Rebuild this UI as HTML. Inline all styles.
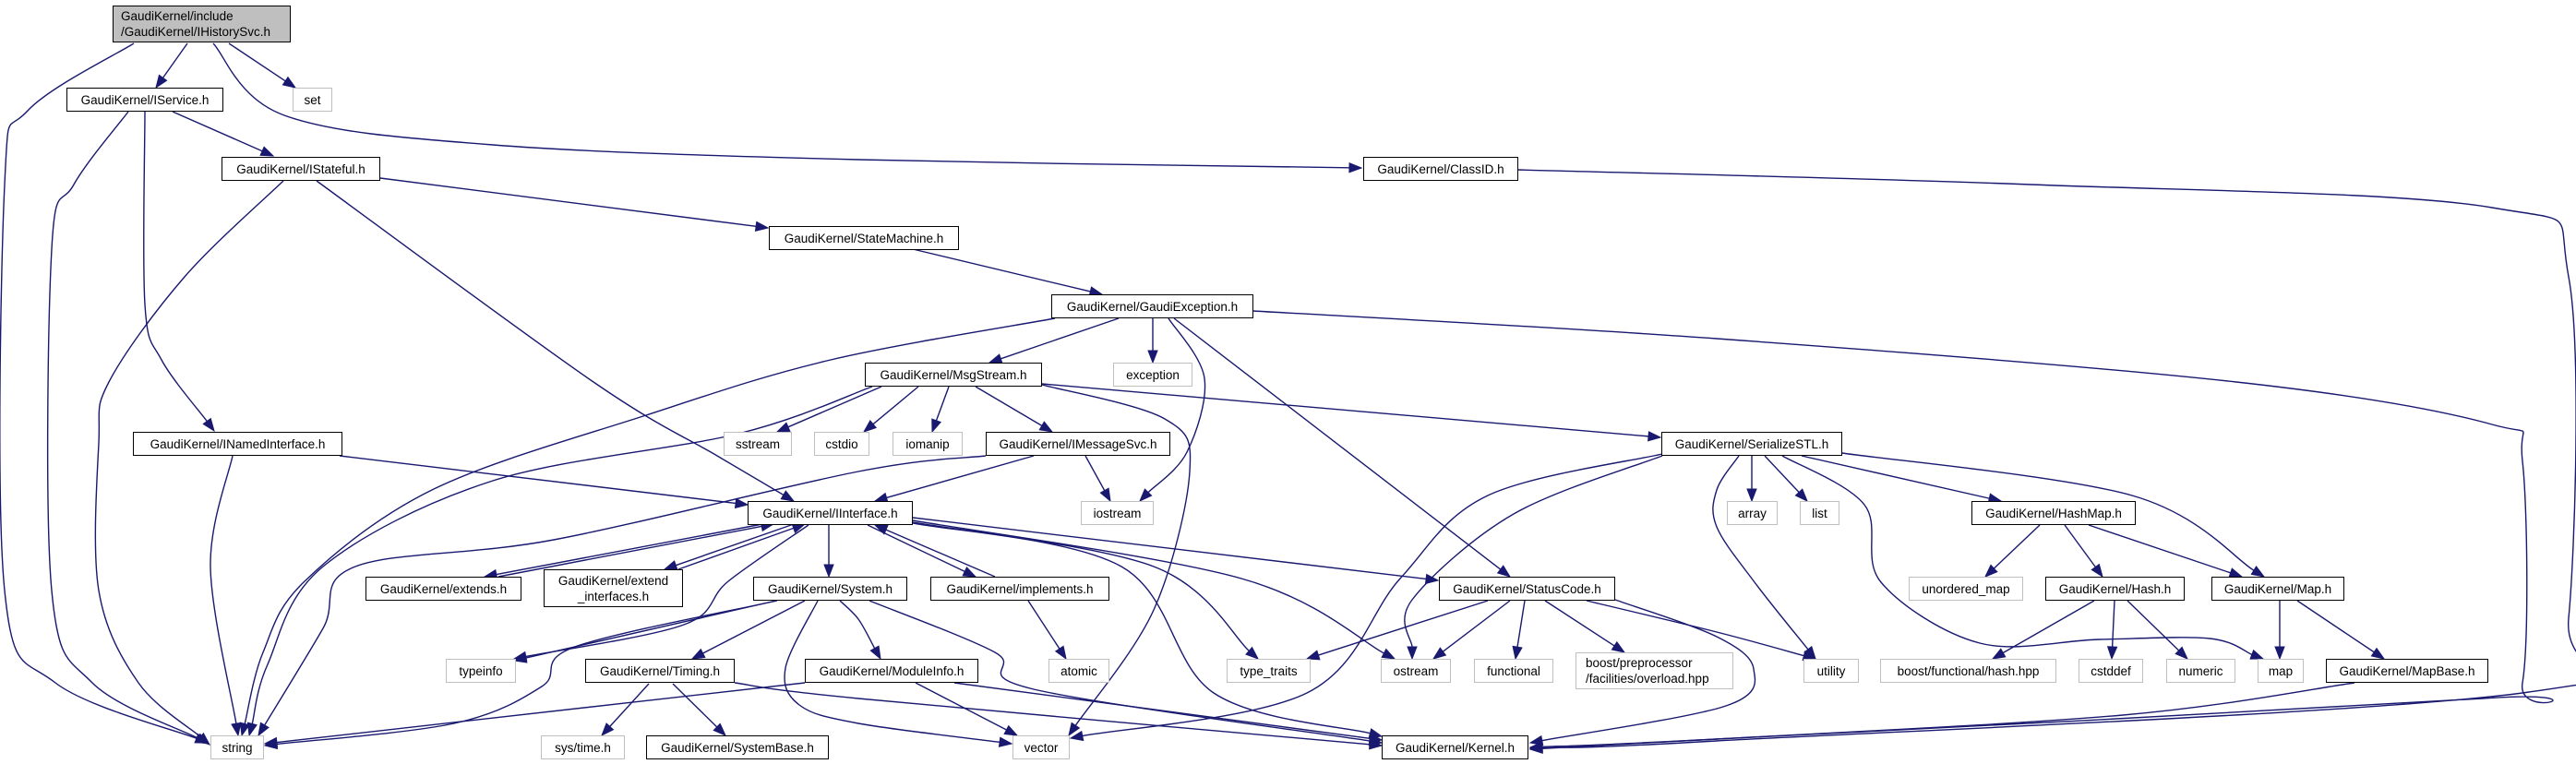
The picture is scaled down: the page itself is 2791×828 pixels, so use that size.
<!DOCTYPE html>
<html><head><meta charset="utf-8">
<style>
html,body{margin:0;padding:0;background:#fff;}
#c{position:relative;width:2791px;height:828px;overflow:hidden;}
svg{position:absolute;left:0;top:0;}
.n{position:absolute;box-sizing:border-box;border:1.5px solid #000;background:#fff;font-family:"Liberation Sans",sans-serif;font-size:13.5px;color:#000;display:flex;align-items:center;justify-content:center;text-align:center;line-height:17px;white-space:nowrap;}
.g{border-color:#bfbfbf;}
.h{background:#bfbfbf;}
</style></head><body><div id="c">
<svg id="s" width="2791" height="828"></svg>
<div class="n h" style="left:122px;top:6px;width:193px;height:40px;text-align:left;justify-content:flex-start;padding-left:8px">GaudiKernel/include<br>/GaudiKernel/IHistorySvc.h</div>
<div class="n" style="left:72px;top:95px;width:170px;height:26px">GaudiKernel/IService.h</div>
<div class="n g" style="left:317px;top:95px;width:43px;height:26px">set</div>
<div class="n" style="left:240px;top:170px;width:172px;height:26px">GaudiKernel/IStateful.h</div>
<div class="n" style="left:1477px;top:170px;width:168px;height:26px">GaudiKernel/ClassID.h</div>
<div class="n" style="left:833px;top:245px;width:206px;height:26px">GaudiKernel/StateMachine.h</div>
<div class="n" style="left:1139px;top:319px;width:219px;height:26px">GaudiKernel/GaudiException.h</div>
<div class="n" style="left:937px;top:393px;width:192px;height:26px">GaudiKernel/MsgStream.h</div>
<div class="n g" style="left:1206px;top:393px;width:86px;height:26px">exception</div>
<div class="n" style="left:144px;top:468px;width:227px;height:26px">GaudiKernel/INamedInterface.h</div>
<div class="n g" style="left:784px;top:468px;width:74px;height:26px">sstream</div>
<div class="n g" style="left:882px;top:468px;width:60px;height:26px">cstdio</div>
<div class="n g" style="left:967px;top:468px;width:76px;height:26px">iomanip</div>
<div class="n" style="left:1068px;top:468px;width:200px;height:26px">GaudiKernel/IMessageSvc.h</div>
<div class="n" style="left:1800px;top:468px;width:196px;height:26px">GaudiKernel/SerializeSTL.h</div>
<div class="n" style="left:810px;top:543px;width:179px;height:26px">GaudiKernel/IInterface.h</div>
<div class="n g" style="left:1171px;top:543px;width:79px;height:26px">iostream</div>
<div class="n g" style="left:1871px;top:543px;width:55px;height:26px">array</div>
<div class="n g" style="left:1950px;top:543px;width:43px;height:26px">list</div>
<div class="n" style="left:2136px;top:543px;width:178px;height:26px">GaudiKernel/HashMap.h</div>
<div class="n" style="left:396px;top:625px;width:169px;height:26px">GaudiKernel/extends.h</div>
<div class="n" style="left:589px;top:617px;width:151px;height:41px">GaudiKernel/extend<br>_interfaces.h</div>
<div class="n" style="left:816px;top:625px;width:167px;height:26px">GaudiKernel/System.h</div>
<div class="n" style="left:1008px;top:625px;width:194px;height:26px">GaudiKernel/implements.h</div>
<div class="n" style="left:1559px;top:625px;width:191px;height:26px">GaudiKernel/StatusCode.h</div>
<div class="n g" style="left:2068px;top:625px;width:124px;height:26px">unordered_map</div>
<div class="n" style="left:2216px;top:625px;width:151px;height:26px">GaudiKernel/Hash.h</div>
<div class="n" style="left:2396px;top:625px;width:144px;height:26px">GaudiKernel/Map.h</div>
<div class="n g" style="left:483px;top:714px;width:76px;height:26px">typeinfo</div>
<div class="n" style="left:634px;top:714px;width:162px;height:26px">GaudiKernel/Timing.h</div>
<div class="n" style="left:872px;top:714px;width:188px;height:26px">GaudiKernel/ModuleInfo.h</div>
<div class="n g" style="left:1136px;top:714px;width:66px;height:26px">atomic</div>
<div class="n g" style="left:1329px;top:714px;width:91px;height:26px">type_traits</div>
<div class="n g" style="left:1496px;top:714px;width:76px;height:26px">ostream</div>
<div class="n g" style="left:1597px;top:714px;width:86px;height:26px">functional</div>
<div class="n g" style="left:1707px;top:707px;width:171px;height:40px;text-align:left;justify-content:flex-start;padding-left:10px">boost/preprocessor<br>/facilities/overload.hpp</div>
<div class="n g" style="left:1954px;top:714px;width:60px;height:26px">utility</div>
<div class="n g" style="left:2037px;top:714px;width:191px;height:26px">boost/functional/hash.hpp</div>
<div class="n g" style="left:2252px;top:714px;width:70px;height:26px">cstddef</div>
<div class="n g" style="left:2347px;top:714px;width:75px;height:26px">numeric</div>
<div class="n g" style="left:2446px;top:714px;width:50px;height:26px">map</div>
<div class="n" style="left:2520px;top:714px;width:176px;height:26px">GaudiKernel/MapBase.h</div>
<div class="n g" style="left:228px;top:797px;width:58px;height:26px">string</div>
<div class="n g" style="left:586px;top:797px;width:91px;height:26px">sys/time.h</div>
<div class="n" style="left:700px;top:797px;width:198px;height:26px">GaudiKernel/SystemBase.h</div>
<div class="n g" style="left:1097px;top:797px;width:62px;height:26px">vector</div>
<div class="n" style="left:1497px;top:797px;width:159px;height:26px">GaudiKernel/Kernel.h</div>
</div>
<script>
var E=[
[[203,47],[169,95]],
[[248,47],[320,95]],
[[145,47],[30,120],[5,200],[5,640],[60,740],[225,805]],
[[231,47],[308,125],[534,157],[930,173],[1475,182]],
[[187,121],[296,169]],
[[139,121],[80,200],[56,270],[56,640],[100,740],[226,806]],
[[157,121],[157,330],[175,390],[232,467]],
[[307,196],[200,300],[118,414],[107,480],[107,640],[150,740],[227,807]],
[[343,196],[643,414],[777,494],[860,543]],
[[412,193],[832,247]],
[[989,270],[1194,319]],
[[1212,345],[1072,393]],
[[1249,345],[1249,393]],
[[1266,345],[1305,410],[1286,490],[1235,543]],
[[1272,345],[1636,625]],
[[1358,337],[1860,367],[2423,414],[2700,460],[2733,500],[2733,740],[2690,757],[1860,801],[1658,810]],
[[1645,184],[2200,200],[2700,225],[2783,300],[2783,670],[2740,750],[1860,803],[1658,811]],
[[2551,740],[2300,775],[1860,801],[1658,812]],
[[1143,345],[900,390],[700,450],[470,530],[330,630],[285,707],[262,797]],
[[945,419],[800,470],[534,521],[350,614],[290,720],[270,797]],
[[1068,494],[930,511],[600,585],[385,614],[350,681],[280,797]],
[[955,419],[842,468]],
[[995,419],[936,468]],
[[1028,419],[1010,468]],
[[1057,419],[1140,468]],
[[1129,417],[1262,454],[1289,511],[1250,661],[1158,797]],
[[1129,416],[1799,474]],
[[1120,494],[948,543]],
[[1176,494],[1203,543]],
[[252,494],[228,614],[258,797]],
[[368,494],[810,547]],
[[826,568],[525,625]],
[[540,625],[838,568]],
[[860,568],[720,617]],
[[735,617],[872,568]],
[[898,568],[898,625]],
[[876,569],[789,630],[741,677],[557,714]],
[[841,651],[557,716]],
[[842,651],[623,701],[587,744],[492,784],[287,808]],
[[872,651],[750,714]],
[[910,651],[930,671],[954,714]],
[[886,651],[851,724],[866,764],[930,784],[1096,806]],
[[942,651],[1078,707],[1120,747],[1497,805]],
[[703,741],[652,797]],
[[729,741],[786,797]],
[[796,740],[930,757],[1497,808]],
[[872,740],[287,806]],
[[992,740],[1102,797]],
[[1034,740],[1497,802]],
[[1078,625],[948,569]],
[[940,569],[1057,625]],
[[1114,651],[1155,714]],
[[989,566],[1250,614],[1363,714]],
[[989,564],[1345,627],[1511,714]],
[[989,561],[1558,629]],
[[989,567],[1215,614],[1315,751],[1497,798]],
[[1612,651],[1416,714]],
[[1636,651],[1553,714]],
[[1652,651],[1642,714]],
[[1674,651],[1760,707]],
[[1719,651],[1860,685],[1967,714]],
[[1750,650],[1860,690],[1900,725],[1870,765],[1658,805]],
[[1801,492],[1612,537],[1517,627],[1416,751],[1160,800]],
[[1801,494],[1640,557],[1530,650],[1530,714]],
[[1898,494],[1898,543]],
[[1912,494],[1958,543]],
[[1884,494],[1860,531],[1860,571],[1901,631],[1967,714]],
[[1931,494],[2020,547],[2038,631],[2145,697],[2275,693],[2394,692],[2452,714]],
[[1952,494],[2168,543]],
[[1996,491],[2310,537],[2453,625]],
[[2210,569],[2151,625]],
[[2237,569],[2278,625]],
[[2263,569],[2429,625]],
[[2269,651],[2159,714]],
[[2291,651],[2288,714]],
[[2305,651],[2370,714]],
[[2470,651],[2470,714]],
[[2489,651],[2583,714]]
];
var s=document.getElementById('s'),NS='http://www.w3.org/2000/svg',C='#191970',AL=13,AW=5;
E.forEach(function(p){
 var n=p.length,a=p[n-2],b=p[n-1],dx=b[0]-a[0],dy=b[1]-a[1],L=Math.sqrt(dx*dx+dy*dy),ux=dx/L,uy=dy/L;
 var q=p.map(function(v){return v.slice();});
 q[n-1]=[b[0]-ux*AL,b[1]-uy*AL];
 var d='M'+q[0][0]+','+q[0][1];
 if(n==2){d+=' L'+q[1][0]+','+q[1][1];}
 else{for(var i=0;i<n-1;i++){var p0=q[Math.max(0,i-1)],p1=q[i],p2=q[i+1],p3=q[Math.min(n-1,i+2)];
  d+=' C'+(p1[0]+(p2[0]-p0[0])/6)+','+(p1[1]+(p2[1]-p0[1])/6)+' '+(p2[0]-(p3[0]-p1[0])/6)+','+(p2[1]-(p3[1]-p1[1])/6)+' '+p2[0]+','+p2[1];}}
 var e=document.createElementNS(NS,'path');e.setAttribute('d',d);e.setAttribute('fill','none');e.setAttribute('stroke',C);e.setAttribute('stroke-width','1.4');s.appendChild(e);
 var bx=b[0]-ux*AL,by=b[1]-uy*AL;
 var t=document.createElementNS(NS,'polygon');
 t.setAttribute('points',b[0]+','+b[1]+' '+(bx-uy*AW)+','+(by+ux*AW)+' '+(bx+uy*AW)+','+(by-ux*AW));
 t.setAttribute('fill',C);t.setAttribute('stroke',C);s.appendChild(t);
});
</script>
</body></html>
